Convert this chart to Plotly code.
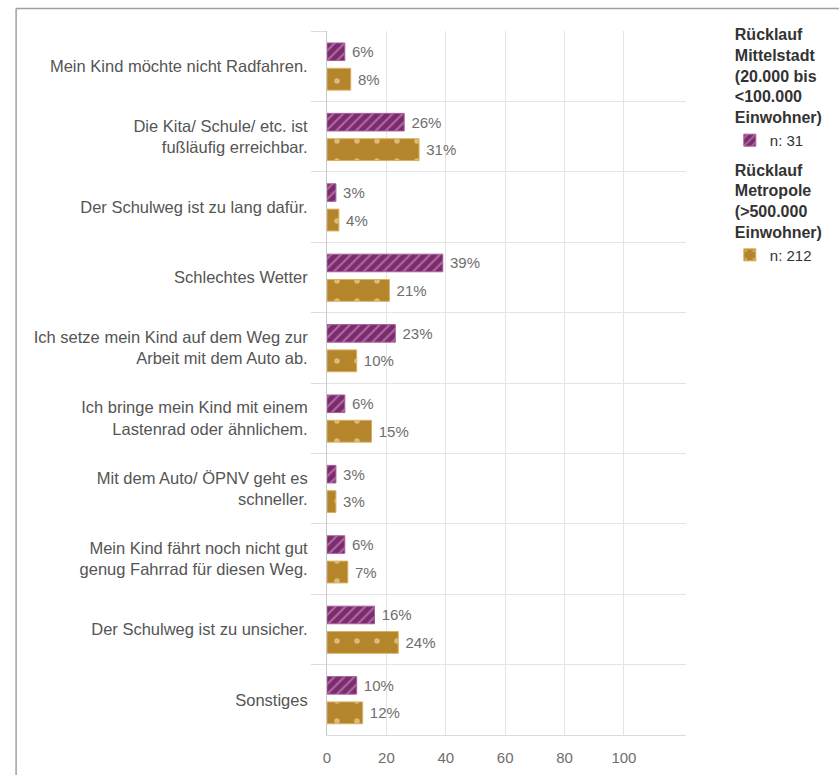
import plotly.graph_objects as go

# Survey answers (reasons against cycling to school), share of responses in %
categories = [
    "Mein Kind möchte nicht Radfahren.",
    "Die Kita/ Schule/ etc. ist<br>fußläufig erreichbar.",
    "Der Schulweg ist zu lang dafür.",
    "Schlechtes Wetter",
    "Ich setze mein Kind auf dem Weg zur<br>Arbeit mit dem Auto ab.",
    "Ich bringe mein Kind mit einem<br>Lastenrad oder ähnlichem.",
    "Mit dem Auto/ ÖPNV geht es<br>schneller.",
    "Mein Kind fährt noch nicht gut<br>genug Fahrrad für diesen Weg.",
    "Der Schulweg ist zu unsicher.",
    "Sonstiges",
]
mittelstadt = [6, 26, 3, 39, 23, 6, 3, 6, 16, 10]
metropole = [8, 31, 4, 21, 10, 15, 3, 7, 24, 12]

mittelstadt_title = "Rücklauf<br>Mittelstadt<br>(20.000 bis<br>&lt;100.000<br>Einwohner)"
metropole_title = "Rücklauf<br>Metropole<br>(&gt;500.000<br>Einwohner)"
mittelstadt_n = "n: 31"
metropole_n = "n: 212"

x_ticks = [0, 20, 40, 60, 80, 100]

PURPLE = "#7b2c6c"
GOLD = "#b5852c"
FONT = "Liberation Sans, Arial, sans-serif"

fig = go.Figure()

fig.add_trace(go.Bar(
    y=categories, x=mittelstadt, orientation="h",
    name=mittelstadt_n,
    legendgroup="mittel",
    legendgrouptitle=dict(text=mittelstadt_title,
                          font=dict(family=FONT, size=16, color="#333333", weight="bold")),
    offset=-0.33, width=0.25,
    marker=dict(color=PURPLE, line=dict(color="#a8609a", width=1),
                pattern=dict(shape="/", fgcolor="#e4a6dc", size=7, solidity=0.3,
                             fillmode="overlay")),
    text=[f" {v}%" for v in mittelstadt], textposition="outside",
    textfont=dict(family=FONT, size=15, color="#6e6e6e"),
    cliponaxis=False,
    hovertemplate="%{y}: %{x}%<extra></extra>",
))

fig.add_trace(go.Bar(
    y=categories, x=metropole, orientation="h",
    name=metropole_n,
    legendgroup="metro",
    legendgrouptitle=dict(text=metropole_title,
                          font=dict(family=FONT, size=16, color="#333333", weight="bold")),
    offset=0.03, width=0.31,
    marker=dict(color=GOLD, line=dict(color="#d9b060", width=1),
                pattern=dict(shape=".", fgcolor="#fff4c4", size=20, solidity=0.06,
                             fillmode="overlay")),
    text=[f" {v}%" for v in metropole], textposition="outside",
    textfont=dict(family=FONT, size=15, color="#6e6e6e"),
    cliponaxis=False,
    hovertemplate="%{y}: %{x}%<extra></extra>",
))

# Outer frame of the figure (top and left edge)
fig.add_shape(type="line", xref="paper", yref="paper",
              x0=-0.866, x1=1.5, y0=1.032, y1=1.032,
              line=dict(color="#a0a0a0", width=1.5))
fig.add_shape(type="line", xref="paper", yref="paper",
              x0=-0.866, x1=-0.866, y0=1.032, y1=-0.1,
              line=dict(color="#a0a0a0", width=1.5))

fig.update_layout(
    width=839, height=775,
    margin=dict(l=327, r=153, t=31, b=40, autoexpand=False),
    paper_bgcolor="white", plot_bgcolor="white",
    barmode="overlay",
    font=dict(family=FONT, color="#555555"),
    showlegend=True,
    legend=dict(x=1.122, xanchor="left", y=1.02, yanchor="top",
                font=dict(family=FONT, size=15, color="#333333"),
                tracegroupgap=6, itemwidth=30, bgcolor="rgba(0,0,0,0)"),
    xaxis=dict(range=[0, 120.9], tickvals=x_ticks, ticktext=[str(t) for t in x_ticks],
               showgrid=True, gridcolor="#e4e4e4", gridwidth=1,
               zeroline=False, showline=True, linecolor="#dcdcdc",
               tickfont=dict(family=FONT, size=15, color="#6e6e6e"),
               ticklabelstandoff=9, fixedrange=True),
    yaxis=dict(autorange="reversed", type="category",
               tickson="boundaries", ticks="outside", ticklen=15, tickcolor="#dcdcdc",
               showgrid=True, gridcolor="#e4e4e4",
               showline=True, linecolor="#c8c8c8",
               tickfont=dict(family=FONT, size=16.5, color="#555555"),
               ticklabelstandoff=15, fixedrange=True),
)

fig.write_html("out.html")
